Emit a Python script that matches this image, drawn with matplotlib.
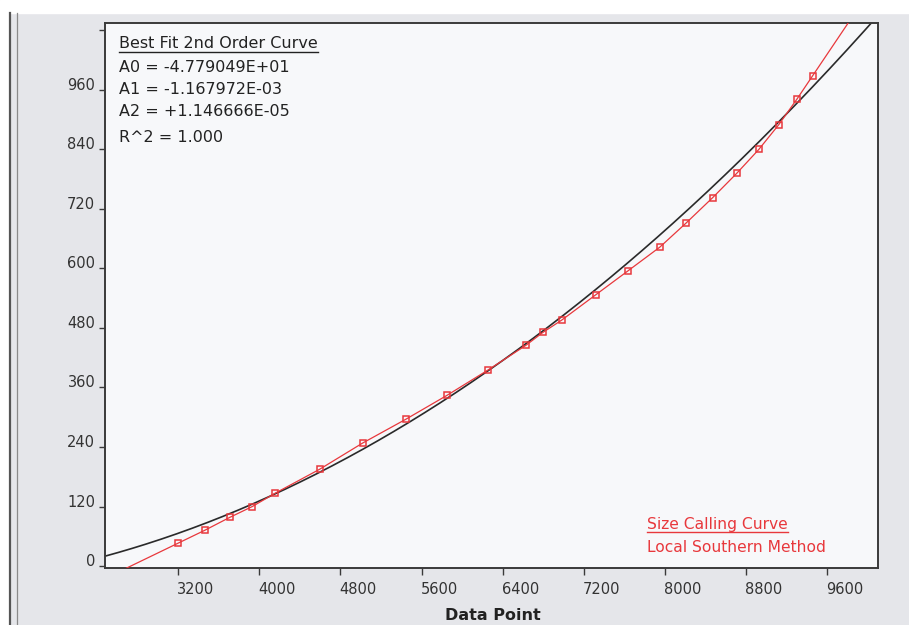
import numpy as np
import matplotlib.pyplot as plt
from matplotlib.lines import Line2D
from matplotlib.patches import Rectangle
from matplotlib.transforms import ScaledTranslation

# size standard peaks: data point vs size
data_point = [3200, 3463, 3709, 3932, 4159, 4595, 5020, 5446, 5850, 6254, 6629,
              6796, 6983, 7318, 7634, 7949, 8205, 8471, 8708, 8925, 9122, 9299, 9457]
size_bp = [46, 72, 98, 120, 147, 195, 248, 296, 344, 395, 445,
           471, 496, 547, 595, 643, 691, 743, 792, 840, 890, 941, 989]

# best fit 2nd order coefficients shown in the box (A0, A1, A2)
fit_coef = [-4.779049E+01, -1.167972E-03, +1.146666E-05]
fit_text = ['Best Fit 2nd Order Curve',
            'A0 = -4.779049E+01',
            'A1 = -1.167972E-03',
            'A2 = +1.146666E-05',
            'R^2 = 1.000']
legend_text = ['Size Calling Curve', 'Local Southern Method']

x_ticks = [3200, 4000, 4800, 5600, 6400, 7200, 8000, 8800, 9600]
y_ticks = [0, 120, 240, 360, 480, 600, 720, 840, 960, 1080]
y_ticklabels = ['0', '120', '240', '360', '480', '600', '720', '840', '960', '']

W, H = 909, 625
red = '#e8383c'
frame = '#3a3a3a'

fig = plt.figure(figsize=(W / 100, H / 100), dpi=100)
fig.patch.set_facecolor('#e5e6ea')


def px(x, y):
    return x / W, 1 - y / H


# window decoration: white strip on top and left, double border line
fig.add_artist(Rectangle((0, 1 - 13 / H), 1, 13 / H, transform=fig.transFigure,
                         color='white', zorder=0))
fig.add_artist(Rectangle((0, 0), 9 / W, 1, transform=fig.transFigure,
                         color='white', zorder=0))
fig.add_artist(Line2D([10 / W, 10 / W], [0, 1 - 13 / H], color='#555555', lw=1.6))
fig.add_artist(Line2D([16.5 / W, 16.5 / W], [0, 1 - 13 / H], color='#8a8a8a', lw=0.9))

ax = fig.add_axes([105 / W, 1 - 568 / H, (878 - 105) / W, (568 - 23) / H])
ax.set_facecolor('#f7f8fa')
ax.set_xlim(2480, 10100)
ax.set_ylim(-4, 1095)

# fitted quadratic
xx = np.linspace(2480, 10100, 400)
yy = np.polyval(fit_coef[::-1], xx)
ax.plot(xx, yy, color='#2a2a2a', lw=1.2, zorder=2)

# local southern: piecewise linear, ends extended from first / last segment
xs = np.array(data_point, dtype=float)
ys = np.array(size_bp, dtype=float)
s0 = (ys[1] - ys[0]) / (xs[1] - xs[0])
s1 = (ys[-1] - ys[-2]) / (xs[-1] - xs[-2])
x_line = np.concatenate([[2480], xs, [10100]])
y_line = np.concatenate([[ys[0] - s0 * (xs[0] - 2480)], ys,
                         [ys[-1] + s1 * (10100 - xs[-1])]])
ax.plot(x_line, y_line, color=red, lw=0.9, zorder=3)
ax.plot(xs, ys, ls='none', marker='s', ms=4.5, mfc='none', mec=red, mew=1.1, zorder=4)

ax.set_xticks(x_ticks)
ax.set_yticks(y_ticks)
ax.set_yticklabels(y_ticklabels)
ax.tick_params(axis='both', direction='out', colors=frame, labelcolor='#333333',
               labelsize=10.5, width=1.0)
ax.tick_params(axis='x', length=5, pad=5)
ax.tick_params(axis='y', length=4, pad=3)
for lbl in ax.get_xticklabels():
    lbl.set_horizontalalignment('left')
    lbl.set_transform(lbl.get_transform() + ScaledTranslation(-0.01, 0, fig.dpi_scale_trans))
for lbl in ax.get_yticklabels():
    lbl.set_transform(lbl.get_transform() + ScaledTranslation(0, 0.06, fig.dpi_scale_trans))
for sp in ax.spines.values():
    sp.set_color(frame)
    sp.set_linewidth(1.4)

fig.text(*px(493, 616), 'Data Point', ha='center', va='center',
         fontsize=11.5, fontweight='bold', color='#222222')

# fit box text
rows_y = [44, 67, 89, 111, 137]
txts = []
for t, y in zip(fit_text, rows_y):
    txts.append(fig.text(*px(119, y), t, ha='left', va='center',
                         fontsize=11.5, color='#222222'))

leg = []
for t, y in zip(legend_text, [525, 548]):
    leg.append(fig.text(*px(647, y), t, ha='left', va='center', fontsize=11.2, color=red))

fig.canvas.draw()
for t, y, c in [(txts[0], 52, '#222222'), (leg[0], 532, red)]:
    bb = t.get_window_extent()
    fig.add_artist(Line2D([bb.x0 / W, bb.x1 / W], [1 - y / H, 1 - y / H],
                          color=c, lw=1.0))

fig.savefig('out.png', dpi=100, facecolor=fig.get_facecolor())
